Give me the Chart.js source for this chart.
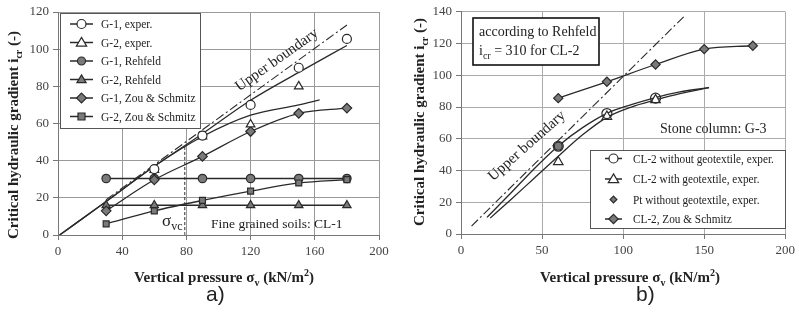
<!DOCTYPE html>
<html>
<head>
<meta charset="utf-8">
<script src="https://cdn.jsdelivr.net/npm/chart.js@4.4.1/dist/chart.umd.min.js"></script>
<style>
  html, body { margin: 0; padding: 0; background: #fff; }
  body { width: 799px; height: 326px; position: relative; overflow: hidden; }
  .wrap { position: absolute; top: 0; height: 326px; }
  #wa { left: 0; width: 400px; }
  #wb { left: 400px; width: 399px; }
  .lab { position: absolute; top: 282px; font-family: "Liberation Sans", Arial, sans-serif; font-size: 21px; color: #222; }
</style>
</head>
<body>
<div class="wrap" id="wa"><canvas id="ca" width="400" height="326"></canvas></div>
<div class="wrap" id="wb"><canvas id="cb" width="399" height="326"></canvas></div>
<div class="lab" style="left:206px">a)</div>
<div class="lab" style="left:636px">b)</div>
<script>
// ---------------- DATA: chart a) ----------------
const aTicksX = [0, 40, 80, 120, 160, 200];
const aTicksY = [0, 20, 40, 60, 80, 100, 120];
const aG1ExperX = [60, 90, 120, 150, 180];
const aG1ExperY = [35.5, 53.5, 70, 90, 105.5];
const aG2ExperX = [60, 90, 120, 150];
const aG2ExperY = [35, 53, 59.5, 80];
const aRehX = [30, 60, 90, 120, 150, 180];
const aG1RehY = [30.4, 30.4, 30.4, 30.4, 30.4, 30.4];
const aG2RehY = [16, 16, 16, 16, 16, 16];
const aZouX = [30, 60, 90, 120, 150, 180];
const aG1ZouY = [13, 29.7, 42.3, 55.7, 65.5, 68.3];
const aG2ZouY = [6, 13, 18.6, 23.6, 28, 29.8];
const aFit1X = [1, 30, 60, 90, 120, 150, 180];
const aFit1Y = [0, 18, 37, 54.5, 72.5, 87.5, 102];
const aFit2X = [1, 30, 60, 90, 120, 150, 163];
const aFit2Y = [0, 18, 37, 53, 64.5, 70, 72.7];
const aUpperX = [30, 180];
const aUpperY = [19, 113];
const aSvcX = [79, 79];
const aSvcY = [0, 48];
const aLegend = ["G-1, exper.", "G-2, exper.", "G-1, Rehfeld", "G-2, Rehfeld", "G-1, Zou & Schmitz", "G-2, Zou & Schmitz"];

// ---------------- DATA: chart b) ----------------
const bTicksX = [0, 50, 100, 150, 200];
const bTicksY = [0, 20, 40, 60, 80, 100, 120, 140];
const bCL2NoGeoX = [60, 90, 120];
const bCL2NoGeoY = [55.3, 75.9, 85.6];
const bCL2GeoX = [60, 90, 120];
const bCL2GeoY = [45.4, 74, 84.5];
const bPtX = [60];
const bPtY = [55.3];
const bZouX = [60, 90, 120, 150, 180];
const bZouY = [85.6, 95.9, 106.8, 116.5, 118.6];
const bFit1X = [16, 30, 45, 60, 75, 90, 105, 120, 135, 153];
const bFit1Y = [10.5, 25, 41, 55.5, 67, 76, 81.5, 86, 89.5, 92.2];
const bFit2X = [18, 30, 45, 60, 75, 90, 105, 120, 135, 153];
const bFit2Y = [10, 21, 35, 49, 62.5, 73.5, 80, 84.5, 88.5, 92.2];
const bUpperX = [6.5, 137.5];
const bUpperY = [5, 137];
const bLegend = ["CL-2 without geotextile, exper.", "CL-2 with geotextile, exper.", "Pt without geotextile, exper.", "CL-2, Zou & Schmitz"];

// ---------------- helpers ----------------
const pts = (xs, ys) => xs.map((x, i) => ({ x: x, y: ys[i] }));
const GRAY = '#7a7a7a';
const DARK = '#2a2a2a';
const SERIF = '"Liberation Serif", "Times New Roman", serif';

function markerSet(label, xs, ys, style, fill, r, line) {
  return {
    label: label, data: pts(xs, ys), showLine: !!line,
    borderColor: DARK, borderWidth: 1.3, backgroundColor: fill,
    pointStyle: style, pointRadius: r, pointBorderColor: DARK, pointBackgroundColor: fill,
    pointBorderWidth: 1.2, cubicInterpolationMode: 'monotone'
  };
}
function lineSet(xs, ys, dash, w) {
  return {
    label: '', data: pts(xs, ys), showLine: true, pointRadius: 0,
    borderColor: DARK, borderWidth: w || 1.3, borderDash: dash || [],
    cubicInterpolationMode: 'monotone', fill: false
  };
}

function drawMarker(ctx, style, x, y, r, fill) {
  ctx.save();
  ctx.fillStyle = fill; ctx.strokeStyle = DARK; ctx.lineWidth = 1.2;
  ctx.beginPath();
  if (style === 'circle') { ctx.arc(x, y, r, 0, Math.PI * 2); }
  else if (style === 'triangle') {
    ctx.moveTo(x, y - r * 1.15); ctx.lineTo(x + r * 1.15, y + r * 0.8); ctx.lineTo(x - r * 1.15, y + r * 0.8); ctx.closePath();
  } else if (style === 'rectRot') {
    const d = r * 1.3; ctx.moveTo(x, y - d); ctx.lineTo(x + d, y); ctx.lineTo(x, y + d); ctx.lineTo(x - d, y); ctx.closePath();
  } else if (style === 'rect') { ctx.rect(x - r, y - r, 2 * r, 2 * r); }
  ctx.fill(); ctx.stroke();
  ctx.restore();
}

// draw rich text: runs [text, 'n'|'sub'|'sup']
function richWidth(ctx, runs, size, weight) {
  let w = 0;
  runs.forEach(([t, k]) => {
    const s = k === 'n' ? size : Math.round(size * 0.68);
    ctx.font = weight + ' ' + s + 'px ' + SERIF; w += ctx.measureText(t).width;
  });
  return w;
}
function drawRich(ctx, runs, x, y, size, weight, align) {
  ctx.save();
  ctx.textBaseline = 'alphabetic';
  let w = richWidth(ctx, runs, size, weight);
  let cx = align === 'center' ? x - w / 2 : x;
  runs.forEach(([t, k]) => {
    const s = k === 'n' ? size : Math.round(size * 0.68);
    ctx.font = weight + ' ' + s + 'px ' + SERIF;
    const dy = k === 'sub' ? size * 0.25 : (k === 'sup' ? -size * 0.42 : 0);
    ctx.textAlign = 'left';
    ctx.fillText(t, cx, y + dy);
    cx += ctx.measureText(t).width;
  });
  ctx.restore();
}

function drawLegend(ctx, box, rows, entries, lx0, lx1, tx, size, sx) {
  ctx.save();
  ctx.fillStyle = '#fff'; ctx.fillRect(box[0], box[1], box[2] - box[0], box[3] - box[1]);
  ctx.strokeStyle = '#555'; ctx.lineWidth = 1; ctx.strokeRect(box[0] + 0.5, box[1] + 0.5, box[2] - box[0], box[3] - box[1]);
  entries.forEach((e, i) => {
    const y = rows[i];
    if (e.line) {
      ctx.strokeStyle = DARK; ctx.lineWidth = 1.5; ctx.beginPath(); ctx.moveTo(lx0, y); ctx.lineTo(lx1, y); ctx.stroke();
    }
    drawMarker(ctx, e.style, (lx0 + lx1) / 2, y, e.r, e.fill);
    ctx.save();
    ctx.translate(tx, y + 1); ctx.scale(sx, 1);
    ctx.fillStyle = '#222'; ctx.font = size + 'px ' + SERIF; ctx.textBaseline = 'middle'; ctx.textAlign = 'left';
    ctx.fillText(e.text, 0, 0);
    ctx.restore();
  });
  ctx.restore();
}

function commonScales(xmin, xmax, xstep, ymin, ymax, ystep, yw, xh, gridColor) {
  const grid = { color: gridColor, lineWidth: 1, tickLength: 5, tickColor: '#777', drawTicks: true };
  const tick = { color: '#444', font: { family: SERIF, size: 13 }, padding: 4 };
  return {
    x: { type: 'linear', min: xmin, max: xmax, grid: grid, border: { color: '#777' },
         ticks: Object.assign({ stepSize: xstep, padding: 9 }, tick),
         afterFit: s => { s.height = xh; } },
    y: { type: 'linear', min: ymin, max: ymax, grid: grid, border: { color: '#777' },
         ticks: Object.assign({ stepSize: ystep }, tick),
         afterFit: s => { s.width = yw; } }
  };
}

// ---------------- chart a) ----------------
const aEntries = [
  { text: aLegend[0], style: 'circle', r: 4.5, fill: '#fff', line: true },
  { text: aLegend[1], style: 'triangle', r: 4.5, fill: '#fff', line: true },
  { text: aLegend[2], style: 'circle', r: 4, fill: GRAY, line: true },
  { text: aLegend[3], style: 'triangle', r: 4, fill: GRAY, line: true },
  { text: aLegend[4], style: 'rectRot', r: 3.8, fill: GRAY, line: true },
  { text: aLegend[5], style: 'rect', r: 3.5, fill: GRAY, line: true }
];
const aPlugin = {
  id: 'aAnn',
  afterDatasetsDraw(chart) {
    const ctx = chart.ctx;
    ctx.save();
    ctx.fillStyle = '#222';
    ctx.save();
    ctx.translate(277, 60); ctx.rotate(-35.3 * Math.PI / 180);
    ctx.font = '15px ' + SERIF; ctx.textAlign = 'center'; ctx.textBaseline = 'middle';
    ctx.fillText('Upper boundary', 0, 0);
    ctx.restore();
    drawRich(ctx, [['σ', 'n'], ['vc', 'sub']], 162, 226, 17, 'normal', 'left');
    ctx.font = '13.5px ' + SERIF; ctx.textAlign = 'left'; ctx.textBaseline = 'alphabetic';
    ctx.fillText('Fine grained soils: CL-1', 211, 228);
    drawLegend(ctx, [60, 13, 200, 128], [24, 42.5, 61, 79.5, 98, 116.5], aEntries, 70, 93, 101, 12.5, 0.92);
    drawRich(ctx, [['Vertical pressure σ', 'n'], ['v', 'sub'], [' (kN/m', 'n'], ['2', 'sup'], [')', 'n']], 224, 282, 15, 'bold', 'center');
    ctx.save(); ctx.translate(18, 135); ctx.rotate(-Math.PI / 2);
    drawRich(ctx, [['Critical hydraulic gradient i', 'n'], ['cr', 'sub'], [' (-)', 'n']], 0, 0, 15, 'bold', 'center');
    ctx.restore();
    ctx.restore();
  }
};
new Chart(document.getElementById('ca'), {
  type: 'scatter',
  data: { datasets: [
    markerSet(aLegend[0], aG1ExperX, aG1ExperY, 'circle', '#fff', 4.5, false),
    markerSet(aLegend[1], aG2ExperX, aG2ExperY, 'triangle', '#fff', 5, false),
    markerSet(aLegend[4], aZouX, aG1ZouY, 'rectRot', GRAY, 4.8, true),
    markerSet(aLegend[5], aZouX, aG2ZouY, 'rect', GRAY, 4.2, true),
    markerSet(aLegend[2], aRehX, aG1RehY, 'circle', GRAY, 4.2, true),
    markerSet(aLegend[3], aRehX, aG2RehY, 'triangle', GRAY, 4.8, true),
    lineSet(aFit1X, aFit1Y),
    lineSet(aFit2X, aFit2Y),
    lineSet(aUpperX, aUpperY, [9, 3, 2, 3], 1.1),
    lineSet(aSvcX, aSvcY, [3, 2], 1)
  ] },
  options: {
    responsive: false, animation: false, devicePixelRatio: 1,
    layout: { padding: { left: 0, right: 21, top: 12, bottom: 0 } },
    plugins: { legend: { display: false }, tooltip: { enabled: false } },
    scales: commonScales(0, 200, 40, 0, 120, 20, 58, 91, '#9a9a9a')
  },
  plugins: [aPlugin]
});

// ---------------- chart b) ----------------
const bEntries = [
  { text: bLegend[0], style: 'circle', r: 4.5, fill: '#fff', line: true },
  { text: bLegend[1], style: 'triangle', r: 4.5, fill: '#fff', line: true },
  { text: bLegend[2], style: 'rectRot', r: 2.6, fill: GRAY, line: false },
  { text: bLegend[3], style: 'rectRot', r: 3.6, fill: GRAY, line: true }
];
const bPlugin = {
  id: 'bAnn',
  afterDatasetsDraw(chart) {
    const ctx = chart.ctx;
    ctx.save();
    ctx.fillStyle = '#fff'; ctx.fillRect(73, 18, 126, 47);
    ctx.strokeStyle = '#111'; ctx.lineWidth = 1.6; ctx.strokeRect(73, 18, 126, 47);
    ctx.fillStyle = '#222';
    ctx.font = '14px ' + SERIF; ctx.textAlign = 'left'; ctx.textBaseline = 'alphabetic';
    ctx.fillText('according to Rehfeld', 79, 36);
    drawRich(ctx, [['i', 'n'], ['cr', 'sub'], [' = 310 for CL-2', 'n']], 79, 55, 14, 'normal', 'left');
    ctx.font = '14px ' + SERIF; ctx.textAlign = 'left';
    ctx.fillText('Stone column: G-3', 260, 133);
    ctx.save();
    ctx.translate(127, 146); ctx.rotate(-41.6 * Math.PI / 180);
    ctx.font = '15px ' + SERIF; ctx.textAlign = 'center'; ctx.textBaseline = 'middle';
    ctx.fillText('Upper boundary', 0, 0);
    ctx.restore();
    drawLegend(ctx, [190, 150, 385, 228], [158.5, 179, 199.5, 219], bEntries, 205, 222, 233, 12.5, 0.9);
    drawRich(ctx, [['Vertical pressure σ', 'n'], ['v', 'sub'], [' (kN/m', 'n'], ['2', 'sup'], [')', 'n']], 230, 282, 15, 'bold', 'center');
    ctx.save(); ctx.translate(24, 122); ctx.rotate(-Math.PI / 2);
    drawRich(ctx, [['Critical hydraulic gradient i', 'n'], ['cr', 'sub'], [' (-)', 'n']], 0, 0, 15, 'bold', 'center');
    ctx.restore();
    ctx.restore();
  }
};
new Chart(document.getElementById('cb'), {
  type: 'scatter',
  data: { datasets: [
    markerSet(bLegend[2], bPtX, bPtY, 'circle', GRAY, 4, false),
    markerSet(bLegend[0], bCL2NoGeoX, bCL2NoGeoY, 'circle', 'rgba(255,255,255,0)', 5, false),
    markerSet(bLegend[1], bCL2GeoX, bCL2GeoY, 'triangle', '#fff', 5.5, false),
    markerSet(bLegend[3], bZouX, bZouY, 'rectRot', GRAY, 4.6, true),
    lineSet(bFit1X, bFit1Y),
    lineSet(bFit2X, bFit2Y),
    lineSet(bUpperX, bUpperY, [9, 3, 2, 3], 1.1)
  ] },
  options: {
    responsive: false, animation: false, devicePixelRatio: 1,
    layout: { padding: { left: 0, right: 12, top: 8, bottom: 0 } },
    plugins: { legend: { display: false }, tooltip: { enabled: false } },
    scales: commonScales(0, 200, 50, 0, 140, 20, 61, 92, '#ababab')
  },
  plugins: [bPlugin]
});
</script>
</body>
</html>
